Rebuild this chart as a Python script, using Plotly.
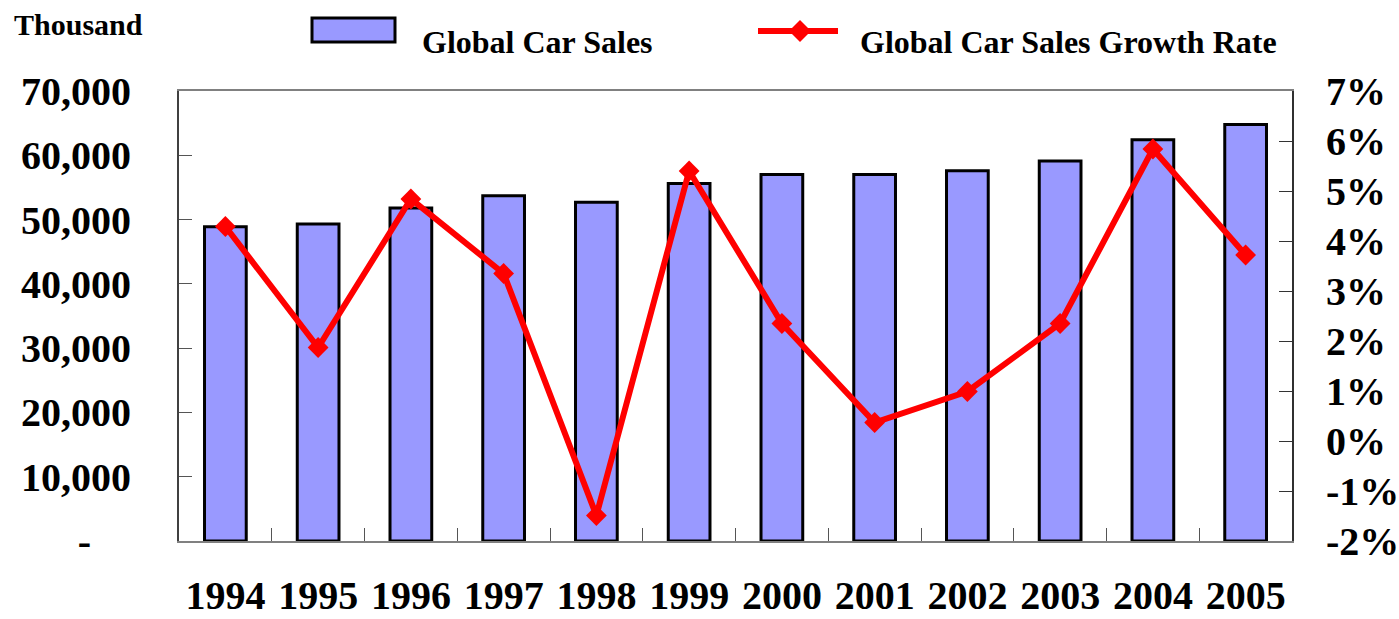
import plotly.graph_objects as go

years = ["1994", "1995", "1996", "1997", "1998", "1999", "2000", "2001", "2002", "2003", "2004", "2005"]
sales = [48900, 49300, 51800, 53700, 52700, 55600, 57000, 57000, 57600, 59100, 62400, 64800]
growth = [0.0429, 0.0187, 0.0484, 0.0335, -0.0149, 0.0540, 0.0235, 0.0037, 0.0099, 0.0235, 0.0584, 0.0372]
left_tickvals = [0, 10000, 20000, 30000, 40000, 50000, 60000, 70000]
left_ticktext = ["-\u00a0\u00a0\u00a0\u00a0", "10,000", "20,000", "30,000", "40,000", "50,000", "60,000", "70,000"]
right_tickvals = [-0.02, -0.01, 0, 0.01, 0.02, 0.03, 0.04, 0.05, 0.06, 0.07]
right_ticktext = ["-2%", "-1%", "0%", "1%", "2%", "3%", "4%", "5%", "6%", "7%"]

FONT = "Liberation Serif"
BAR_COLOR = "#9999FF"
RED = "#FF0000"

W, H = 1399, 619
L, R, T, B = 179, 107, 91, 78
PW, PH = W - L - R, H - T - B


def px(x):
    return (x - L) / PW


def py(y):
    return (H - B - y) / PH


fig = go.Figure()
fig.add_trace(go.Bar(
    x=years, y=sales, name="Global Car Sales",
    marker=dict(color=BAR_COLOR, line=dict(color="black", width=3)),
    showlegend=False,
))
fig.add_trace(go.Scatter(
    x=years, y=growth, name="Global Car Sales Growth Rate", yaxis="y2",
    mode="lines+markers",
    line=dict(color=RED, width=6),
    marker=dict(symbol="diamond", size=16, color=RED),
    showlegend=False,
))

tickfont = dict(family=FONT, size=40, color="black", weight="bold")

fig.update_layout(
    width=W, height=H,
    margin=dict(l=L, r=R, t=T, b=B, autoexpand=False),
    paper_bgcolor="white", plot_bgcolor="white",
    bargap=0.55,
    xaxis=dict(
        type="category", range=[-0.5, len(years) - 0.5],
        showgrid=False, showline=True, linecolor="#808080", linewidth=2,
        mirror=True, ticks="inside", ticklen=13, tickcolor="#555", tickson="boundaries",
        tickfont=dict(family=FONT, size=40, color="black", weight="bold"),
        tickangle=0, automargin=False, ticklabelstandoff=18,
    ),
    yaxis=dict(
        range=[0, 70000], tickvals=left_tickvals, ticktext=left_ticktext,
        showgrid=False, zeroline=False, showline=True, linecolor="#404040", linewidth=2,
        ticks="inside", ticklen=13, tickcolor="#555", automargin=False,
        tickfont=tickfont, ticklabelstandoff=38,
    ),
    yaxis2=dict(
        range=[-0.02, 0.07], tickvals=right_tickvals, ticktext=right_ticktext,
        overlaying="y", side="right", automargin=False,
        showgrid=False, zeroline=False, showline=True, linecolor="#303030", linewidth=2,
        ticks="inside", ticklen=13, tickcolor="#333",
        tickfont=tickfont, ticklabelstandoff=24,
    ),
)

# Manual legend
fig.add_shape(type="rect", xref="paper", yref="paper",
              x0=px(312), x1=px(395), y0=py(42), y1=py(18),
              fillcolor=BAR_COLOR, line=dict(color="black", width=3), layer="above")
fig.add_annotation(xref="paper", yref="paper", x=px(420), y=py(42),
                   text="Global Car Sales", showarrow=False, xanchor="left", yanchor="middle",
                   font=dict(family=FONT, size=32, color="black", weight="bold"))
fig.add_shape(type="line", xref="paper", yref="paper",
              x0=px(758), x1=px(838), y0=py(31), y1=py(31),
              line=dict(color=RED, width=6))
cx, cy, d = 800, 31, 11
fig.add_shape(type="path", xref="paper", yref="paper",
              path=(f"M {px(cx - d)} {py(cy)} L {px(cx)} {py(cy - d)} "
                    f"L {px(cx + d)} {py(cy)} L {px(cx)} {py(cy + d)} Z"),
              fillcolor=RED, line=dict(color=RED, width=0))
fig.add_annotation(xref="paper", yref="paper", x=px(858), y=py(42),
                   text="Global Car Sales Growth Rate", showarrow=False, xanchor="left", yanchor="middle",
                   font=dict(family=FONT, size=32, color="black", weight="bold"))
fig.add_annotation(xref="paper", yref="paper", x=px(12), y=py(24),
                   text="Thousand", showarrow=False, xanchor="left", yanchor="middle",
                   font=dict(family=FONT, size=30, color="black", weight="bold"))

fig.write_html("out.html")
